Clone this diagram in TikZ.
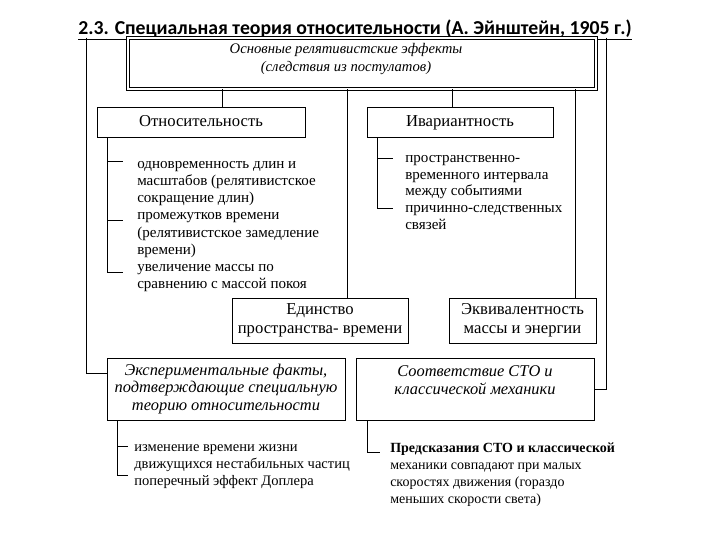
\documentclass[tikz,border=0pt]{standalone}
\usepackage{fontspec}
\setmainfont{Liberation Serif}
\newfontfamily\titlefont{Carlito}
\begin{document}
\begin{tikzpicture}[
  x=0.75pt, y=-0.75pt,
  edge/.style={line width=0.6pt},
  box/.style={draw, line width=0.6pt, fill=white, inner sep=0pt, align=center,
    font=\fontsize{12.5}{14}\selectfont},
  onebox/.style={box, text height=8.5pt, text depth=2.5pt},
  itbox/.style={box, font=\fontsize{12.3}{13.4}\selectfont\itshape},
  items/.style={anchor=north west, inner sep=0pt, align=left,
    font=\fontsize{11.3}{12.9}\selectfont},
]
\useasboundingbox (0,0) rectangle (720,540);

% title (partly hidden under the top box)
\node[anchor=base west, inner sep=0pt, font=\titlefont\bfseries\fontsize{14.8}{16}\selectfont]
  (title) at (78,34.5) {\underline{2.3. Специальная теория относительности (А. Эйнштейн, 1905 г.)}};

% the top box
\node[box, double, double distance=1.6pt, minimum width=351pt, minimum height=38.25pt]
  (effects) at (362,63.5) {};
\node[font=\fontsize{11}{13.2}\selectfont\itshape, align=center, inner sep=0pt]
  (effectstext) at ([xshift=-12pt, yshift=3.4pt]effects.center)
  {Основные релятивистские эффекты\\(следствия из постулатов)};

% second row
\node[onebox, minimum width=156pt, minimum height=22.5pt] (rel) at (201,122) {Относительность};
\node[onebox, minimum width=139.5pt, minimum height=22.5pt] (inv) at (460,122) {Ивариантность};

% third row
\node[box, minimum width=132pt, minimum height=33.75pt] (unity) at (320,320.5)
  {Единство\\пространства- времени};
\node[box, minimum width=110.25pt, minimum height=33.75pt] (equiv) at (522.5,320.5)
  {Эквивалентность\\массы и энергии};

% bottom row
\node[itbox, minimum width=178.5pt, minimum height=46.5pt] (exper) at (226,389)
  {Экспериментальные факты,\\подтверждающие специальную\\теорию относительности};
\node[itbox, minimum width=178.5pt, minimum height=46.5pt] (corresp) at (475,389)
  {Соответствие СТО и\\классической механики\\~};

% connectors from the top box
\foreach \x/\n in {222/rel, 347/unity, 452/inv, 575/equiv}
  \draw[edge] (effects.south -| \x,0) -- (\n.north -| \x,0);
\draw[edge] (effects.north -| 86,0) |- (exper.west |- 0,373);
\draw[edge] (effects.north -| 606,0) |- (corresp.east);

% lists
\node[items] (relitems) at (137,161)
  {одновременность длин и\\масштабов (релятивистское\\сокращение длин)\\
   промежутков времени\\(релятивистское замедление\\времени)\\
   увеличение массы по\\сравнению с массой покоя};
\node[items, font=\fontsize{11.3}{12.5}\selectfont] (invitems) at (405,155)
  {пространственно-\\временного интервала\\между событиями\\
   причинно-следственных\\связей};
\node[items, font=\fontsize{10.9}{12.9}\selectfont] (experitems) at (134,444)
  {изменение времени жизни\\движущихся нестабильных частиц\\поперечный эффект Доплера};
\node[items, font=\fontsize{10.5}{12.6}\selectfont] (corritems) at (390,443)
  {\textbf{Предсказания СТО и классической}\\механики совпадают при малых\\
   скоростях движения (гораздо\\меньших скорости света)};

% brackets
\draw[edge] (rel.south -| 107,0) -- (107,272);
\foreach \y in {161,220,272} \draw[edge] (107,\y) -- (123,\y);
\draw[edge] (inv.south -| 377,0) -- (377,208);
\foreach \y in {158,208} \draw[edge] (377,\y) -- (393,\y);
\draw[edge] (exper.south -| 117,0) -- (117,475);
\foreach \y in {446,475} \draw[edge] (117,\y) -- (128,\y);
\draw[edge] (corresp.south -| 367,0) |- (380,452);

\end{tikzpicture}
\end{document}
